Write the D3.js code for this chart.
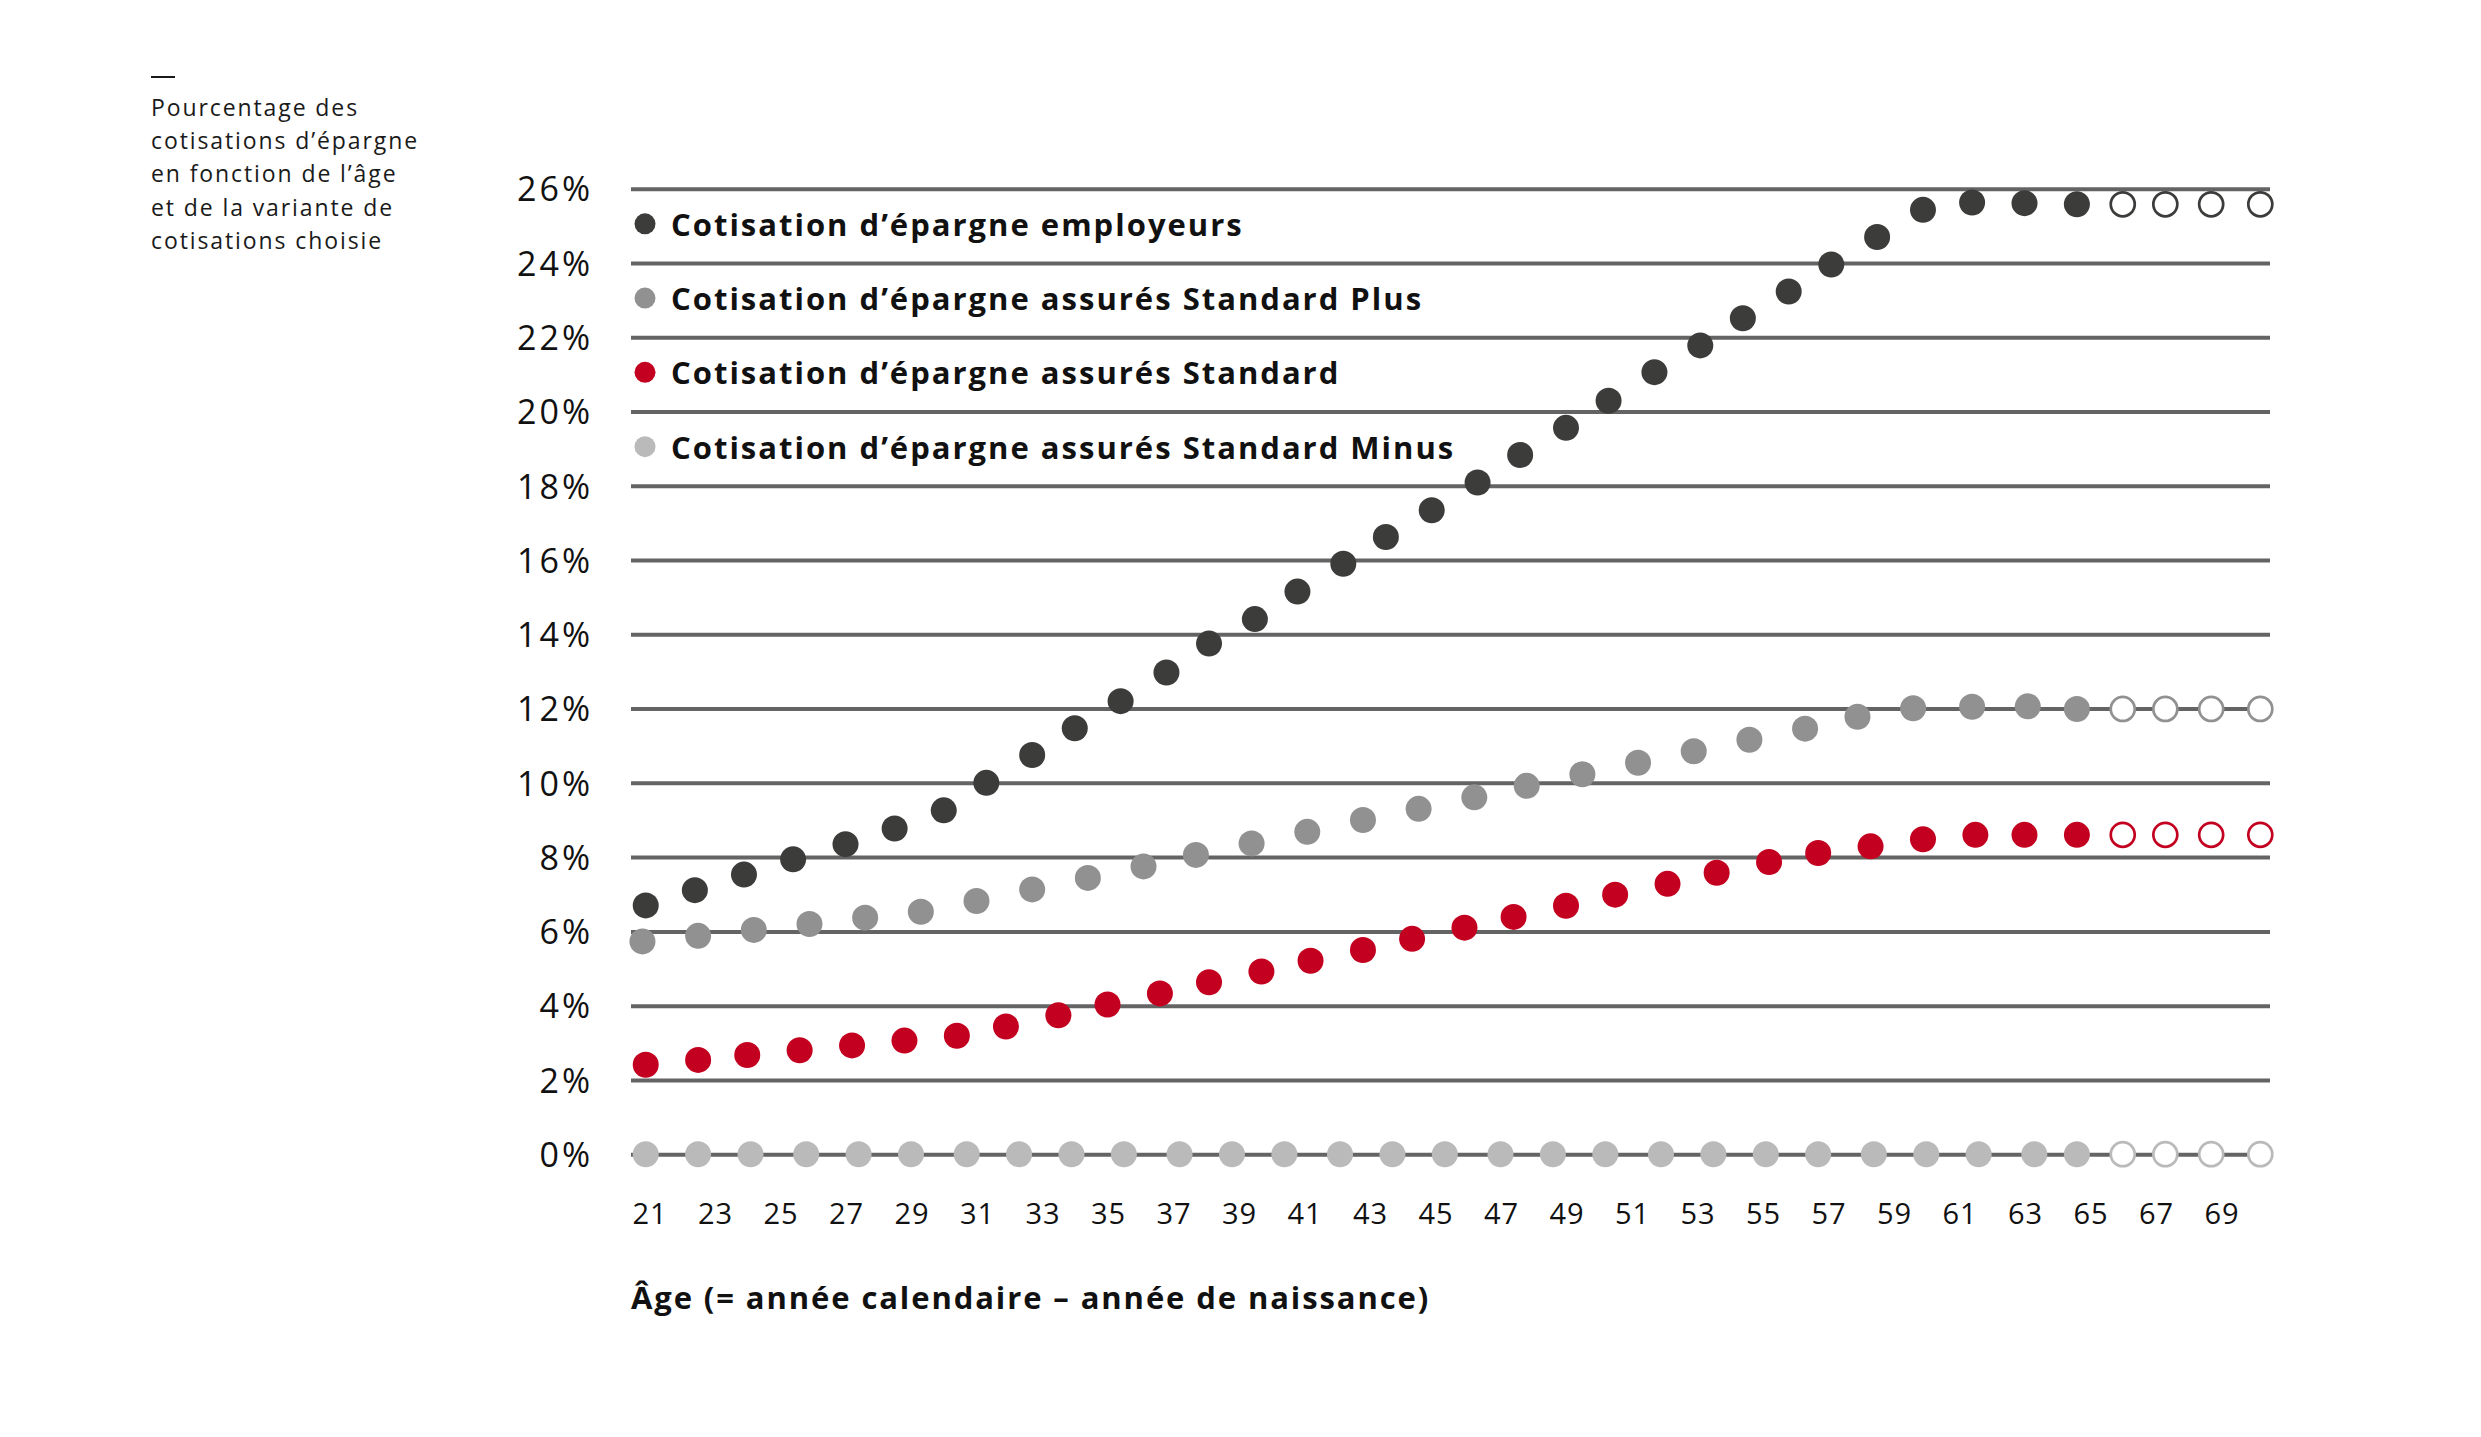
<!DOCTYPE html>
<html lang="fr">
<head>
<meta charset="UTF-8">
<title>Cotisations d’épargne</title>
<script src="https://d3js.org/d3.v7.min.js"></script>
<style>
  body { margin: 0; background: #fff; }
  svg { display: block; font-family: "Open Sans", Arial, sans-serif; }
  .grid .tick line { stroke: #646464; stroke-width: 4; }
  .grid .tick text { font-size: 34px; fill: #111; letter-spacing: 3px; }
  .xaxis .tick text { font-size: 29px; fill: #111; letter-spacing: 1px; }
  .legend text { font-size: 31px; font-weight: 700; fill: #111; letter-spacing: 2px; }
  .note text { font-size: 23px; fill: #1a1a1a; letter-spacing: 1.9px; }
</style>
</head>
<body>
<script>
// tick labels
const yTicks = [0, 2, 4, 6, 8, 10, 12, 14, 16, 18, 20, 22, 24, 26];
const xTicks = [21, 23, 25, 27, 29, 31, 33, 35, 37, 39, 41, 43, 45, 47, 49, 51, 53, 55, 57, 59, 61, 63, 65, 67, 69];

// text
const noteLines = ['Pourcentage des', 'cotisations d’épargne', 'en fonction de l’âge', 'et de la variante de', 'cotisations choisie'];
const xTitle = 'Âge (= année calendaire – année de naissance)';
const seriesNames = [
  'Cotisation d’épargne employeurs',
  'Cotisation d’épargne assurés Standard Plus',
  'Cotisation d’épargne assurés Standard',
  'Cotisation d’épargne assurés Standard Minus'
];
const seriesColors = ['#3c3c3b', '#919191', '#c3001f', '#bababa'];

// dots as drawn: age position and contribution in %
const employeurAges = [20.9, 22.4, 23.9, 25.4, 27.0, 28.5, 30.0, 31.3, 32.7, 34.0, 35.4, 36.8, 38.1, 39.5, 40.8, 42.2,
  43.5, 44.9, 46.3, 47.6, 49.0, 50.3, 51.7, 53.1, 54.4, 55.8, 57.1, 58.5, 59.9, 61.4, 63.0, 64.6];
const employeurValues = [6.70, 7.11, 7.53, 7.94, 8.35, 8.77, 9.26, 10.0, 10.75, 11.47, 12.2, 12.97, 13.75, 14.41, 15.15, 15.90,
  16.62, 17.34, 18.09, 18.83, 19.56, 20.29, 21.06, 21.78, 22.51, 23.23, 23.96, 24.70, 25.43, 25.63, 25.61, 25.58];

const plusAges = [20.8, 22.5, 24.2, 25.9, 27.6, 29.3, 31.0, 32.7, 34.4, 36.1, 37.7, 39.4, 41.1, 42.8, 44.5, 46.2,
  47.8, 49.5, 51.2, 52.9, 54.6, 56.3, 57.9, 59.6, 61.4, 63.1, 64.6];
const plusValues = [5.73, 5.88, 6.04, 6.20, 6.37, 6.53, 6.82, 7.13, 7.44, 7.75, 8.06, 8.37, 8.68, 9.00, 9.30, 9.61,
  9.92, 10.23, 10.54, 10.85, 11.16, 11.46, 11.78, 12.01, 12.05, 12.06, 11.99];

const standardAges = [20.9, 22.5, 24.0, 25.6, 27.2, 28.8, 30.4, 31.9, 33.5, 35.0, 36.6, 38.1, 39.7, 41.2, 42.8, 44.3,
  45.9, 47.4, 49.0, 50.5, 52.1, 53.6, 55.2, 56.7, 58.3, 59.9, 61.5, 63.0, 64.6];
const standardValues = [2.41, 2.54, 2.67, 2.80, 2.93, 3.06, 3.19, 3.44, 3.74, 4.03, 4.33, 4.63, 4.92, 5.21, 5.50, 5.80,
  6.10, 6.39, 6.69, 6.99, 7.28, 7.58, 7.87, 8.11, 8.29, 8.48, 8.60, 8.60, 8.60];

const minusAges = [20.9, 22.5, 24.1, 25.8, 27.4, 29.0, 30.7, 32.3, 33.9, 35.5, 37.2, 38.8, 40.4, 42.1, 43.7, 45.3,
  47.0, 48.6, 50.2, 51.9, 53.5, 55.1, 56.7, 58.4, 60.0, 61.6, 63.3, 64.6];
const minusValues = [0, 0, 0, 0, 0, 0, 0, 0, 0, 0, 0, 0, 0, 0, 0, 0, 0, 0, 0, 0, 0, 0, 0, 0, 0, 0, 0, 0];

// open circles after 65
const projectedAges = [66.0, 67.3, 68.7, 70.2];
const employeurProjected = [25.58, 25.58, 25.58, 25.58];
const plusProjected = [11.99, 11.99, 11.99, 11.99];
const standardProjected = [8.60, 8.60, 8.60, 8.60];
const minusProjected = [0, 0, 0, 0];

const series = [
  { ages: employeurAges, values: employeurValues, projected: employeurProjected },
  { ages: plusAges, values: plusValues, projected: plusProjected },
  { ages: standardAges, values: standardValues, projected: standardProjected },
  { ages: minusAges, values: minusValues, projected: minusProjected }
].map((s, i) => ({ ...s, name: seriesNames[i], color: seriesColors[i] }));

const W = 2481, H = 1437;
const gridLeft = 631, gridRight = 2270;

const svg = d3.select('body').append('svg')
  .attr('width', W)
  .attr('height', H);

const x = d3.scaleLinear().domain([21, 69]).range([649, 2221]);
const y = d3.scaleLinear().domain([0, 26]).range([1154.2, 188.7]);

// horizontal grid + y labels
const gridAxis = svg.append('g')
  .attr('class', 'grid')
  .attr('transform', `translate(${gridLeft},0)`)
  .call(d3.axisLeft(y)
    .tickValues(yTicks)
    .tickFormat(d => d + '%')
    .tickSize(-(gridRight - gridLeft))
    .tickPadding(38));
gridAxis.select('.domain').remove();
gridAxis.attr('font-family', null).attr('font-size', null);
gridAxis.selectAll('.tick text').attr('dy', '0.36em');

// x labels
const xAxis = svg.append('g')
  .attr('class', 'xaxis')
  .attr('transform', `translate(0,${y(0)})`)
  .call(d3.axisBottom(x).tickValues(xTicks).tickSize(0).tickPadding(49));
xAxis.select('.domain').remove();
xAxis.attr('font-family', null).attr('font-size', null);
xAxis.selectAll('.tick text').attr('dx', '0.5px');

svg.append('text')
  .attr('x', gridLeft)
  .attr('y', 1309)
  .attr('font-size', 31)
  .attr('font-weight', 700)
  .attr('letter-spacing', '1.9px')
  .attr('fill', '#111')
  .text(xTitle);

// dots
const groups = svg.selectAll('.series')
  .data(series)
  .join('g')
  .attr('class', 'series');

groups.selectAll('circle.filled')
  .data(s => s.ages.map((a, i) => ({ age: a, value: s.values[i], color: s.color })))
  .join('circle')
  .attr('class', 'filled')
  .attr('cx', d => x(d.age))
  .attr('cy', d => y(d.value))
  .attr('r', 13)
  .attr('fill', d => d.color);

groups.selectAll('circle.open')
  .data(s => projectedAges.map((a, i) => ({ age: a, value: s.projected[i], color: s.color })))
  .join('circle')
  .attr('class', 'open')
  .attr('cx', d => x(d.age))
  .attr('cy', d => y(d.value))
  .attr('r', 12)
  .attr('fill', '#fff')
  .attr('stroke', d => d.color)
  .attr('stroke-width', 2.7);

// legend, one row between each of the top gridlines
const legend = svg.append('g').attr('class', 'legend');
const rows = legend.selectAll('g')
  .data(series)
  .join('g')
  .attr('transform', (d, i) => `translate(645,${y(25 - 2 * i) - 2})`);
rows.append('circle').attr('r', 10.5).attr('fill', d => d.color);
rows.append('text').attr('x', 26).attr('y', 12).text(d => d.name);

// note top left
const note = svg.append('g').attr('class', 'note');
note.append('line')
  .attr('x1', 151).attr('x2', 175)
  .attr('y1', 77).attr('y2', 77)
  .attr('stroke', '#1a1a1a').attr('stroke-width', 2);
note.selectAll('text')
  .data(noteLines)
  .join('text')
  .attr('x', 151)
  .attr('y', (d, i) => 115.7 + i * 33.3)
  .text(d => d);
</script>
</body>
</html>
